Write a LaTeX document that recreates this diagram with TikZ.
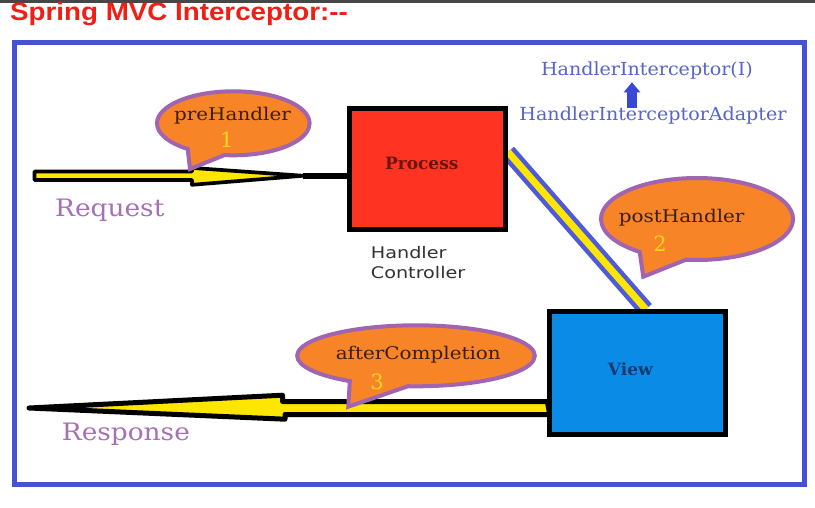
\documentclass[tikz,border=0pt]{standalone}
\usepackage{fontspec}
\usepackage{graphicx}
\setmainfont{DejaVu Serif}
\newfontfamily\titlefont{Liberation Sans}
\newfontfamily\ctrlfont{DejaVu Sans}
\usetikzlibrary{shapes.callouts,arrows.meta}
\definecolor{framecol}{RGB}{70,82,212}
\definecolor{procred}{RGB}{255,51,34}
\definecolor{viewblue}{RGB}{10,140,230}
\definecolor{bubor}{RGB}{248,132,40}
\definecolor{bubpurple}{RGB}{160,100,176}
\definecolor{bubtxt}{RGB}{60,30,20}
\definecolor{numyel}{RGB}{255,214,30}
\definecolor{reqpurple}{RGB}{166,112,181}
\definecolor{toptxt}{RGB}{88,100,200}
\definecolor{arrowblue}{RGB}{58,72,214}
\definecolor{yel}{RGB}{255,230,0}
\definecolor{ctrltxt}{RGB}{50,50,50}
\definecolor{titlered}{RGB}{240,30,20}
\definecolor{proctxt}{RGB}{110,20,10}
\definecolor{viewtxt}{RGB}{20,60,110}
\definecolor{topbar}{RGB}{70,70,70}
\newcommand{\sx}[2]{\scalebox{#1}[1]{#2}}
\pgfdeclarelayer{bg}
\pgfsetlayers{bg,main}
\begin{document}
\begin{tikzpicture}[x=1pt,y=-1pt,
  boxnode/.style={draw=black,line width=5pt,inner sep=0pt},
  bubble/.style={ellipse callout,draw=bubpurple,fill=bubor,line width=4pt,inner sep=0pt,callout pointer arc=30},
  bubtext/.style={text=bubtxt,font=\fontsize{17.5}{20}\selectfont,inner sep=0pt,anchor=base},
  numtext/.style={text=numyel,font=\fontsize{21}{24}\selectfont,inner sep=0pt,anchor=base},
  flowtext/.style={text=reqpurple,font=\fontsize{24}{28}\selectfont,inner sep=0pt,anchor=base west},
  toptext/.style={text=toptxt,font=\fontsize{18}{22}\selectfont,anchor=base},
  yelarrow/.style={fill=yel,draw=black,line join=round}
]
\useasboundingbox (0,0) rectangle (815,507);

\node[text=titlered,font=\titlefont\bfseries\fontsize{25}{28}\selectfont,inner sep=0pt,anchor=base west] (title) at (10,20.7) {\sx{1.11}{Spring MVC Interceptor:--}};

% boxes
\node[boxnode,fill=procred,minimum width=156pt,minimum height=121pt] (proc) at (427.5,169) {};
\node[text=proctxt,font=\bfseries\fontsize{17}{20}\selectfont,inner sep=0pt,anchor=base] (proclbl) at (421.7,169) {Process};
\node[boxnode,fill=viewblue,minimum width=176pt,minimum height=122.4pt] (view) at (637.8,373) {};
\node[text=viewtxt,font=\bfseries\fontsize{17}{20}\selectfont,inner sep=0pt,anchor=base] (viewlbl) at (630.3,375) {View};

\node[text=ctrltxt,font=\ctrlfont\fontsize{16}{20}\selectfont,align=left,inner sep=0pt,anchor=north west] (ctrl) at (370.7,246) {\sx{1.2}{Handler}\\\sx{1.2}{Controller}};

% top right
\node[toptext] (iface) at (647,75) {\sx{1.06}{HandlerInterceptor(I)}};
\node[toptext] (adapter) at (653,120) {\sx{1.06}{HandlerInterceptorAdapter}};
\coordinate (ax) at (632,0);
\draw[arrowblue,line width=10pt,-{Triangle[width=16pt,length=10pt]},shorten <=-5pt] (adapter.north -| ax) -- (iface.south -| ax);

% flow labels
\node[flowtext] (req) at (55,216.7) {\sx{1.1}{Request}};
\node[flowtext] (resp) at (61.7,440.7) {\sx{1.1}{Response}};

\begin{pgfonlayer}{bg}
\fill[white] (0,0) rectangle (815,507);
\fill[topbar] (0,0) rectangle (815,2.5);
\node[draw=framecol,line width=5pt,minimum width=789.7pt,minimum height=442pt,inner sep=0pt] (frame) at (409.35,263.5) {};
% diagonal connector
\draw[line width=16pt,arrowblue!90] ([yshift=17pt]proc.east) -- ([xshift=8pt]view.north);
\draw[line width=7pt,yel] ([yshift=17pt]proc.east) -- ([xshift=8pt]view.north);
% request arrow
\coordinate (reqStart) at (34.5,175.75);
\coordinate (reqTip) at (303,175.75);
\draw[line width=6pt] (reqTip) -- (reqTip -| proc.west);
\filldraw[yelarrow,line width=3.7pt] (reqStart) ++(0,-4.25) -- ++(157.5,0) -- ++(0,-3.6) -- (reqTip) -- ++(-111,9.05) -- ++(0,-4.8) -- ++(-157.5,0) -- cycle;
% response arrow
\coordinate (respStart) at (view.west |- 0,408);
\coordinate (respTip) at (29,408);
\filldraw[yelarrow,line width=5pt] (respStart) ++(0,-6.5) -- ++(-264.8,0) -- ++(0,-6.3) -- (respTip) -- ++(256,11.2) -- ++(0,-4.7) -- ++(264.8,0) -- cycle;
\end{pgfonlayer}

% callouts
\node[bubble,minimum width=152.6pt,minimum height=64pt,callout absolute pointer={(190,169)}] (c1) at (233.3,123.3) {};
\node[bubtext] (t1) at (232.5,120.7) {\sx{1.14}{preHandler}};
\node[numtext] (n1) at (226.7,147.3) {1};

\node[bubble,minimum width=192pt,minimum height=82pt,callout absolute pointer={(643.3,276.7)}] (c2) at (697,219) {};
\node[bubtext] (t2) at (681.7,222.3) {\sx{1.14}{postHandler}};
\node[numtext] (n2) at (660,251) {2};

\node[bubble,minimum width=237.6pt,minimum height=61pt,callout absolute pointer={(348.3,406.7)}] (c3) at (416,355.8) {};
\node[bubtext] (t3) at (418.3,359) {\sx{1.14}{afterCompletion}};
\node[numtext] (n3) at (377,389) {3};
\end{tikzpicture}
\end{document}
